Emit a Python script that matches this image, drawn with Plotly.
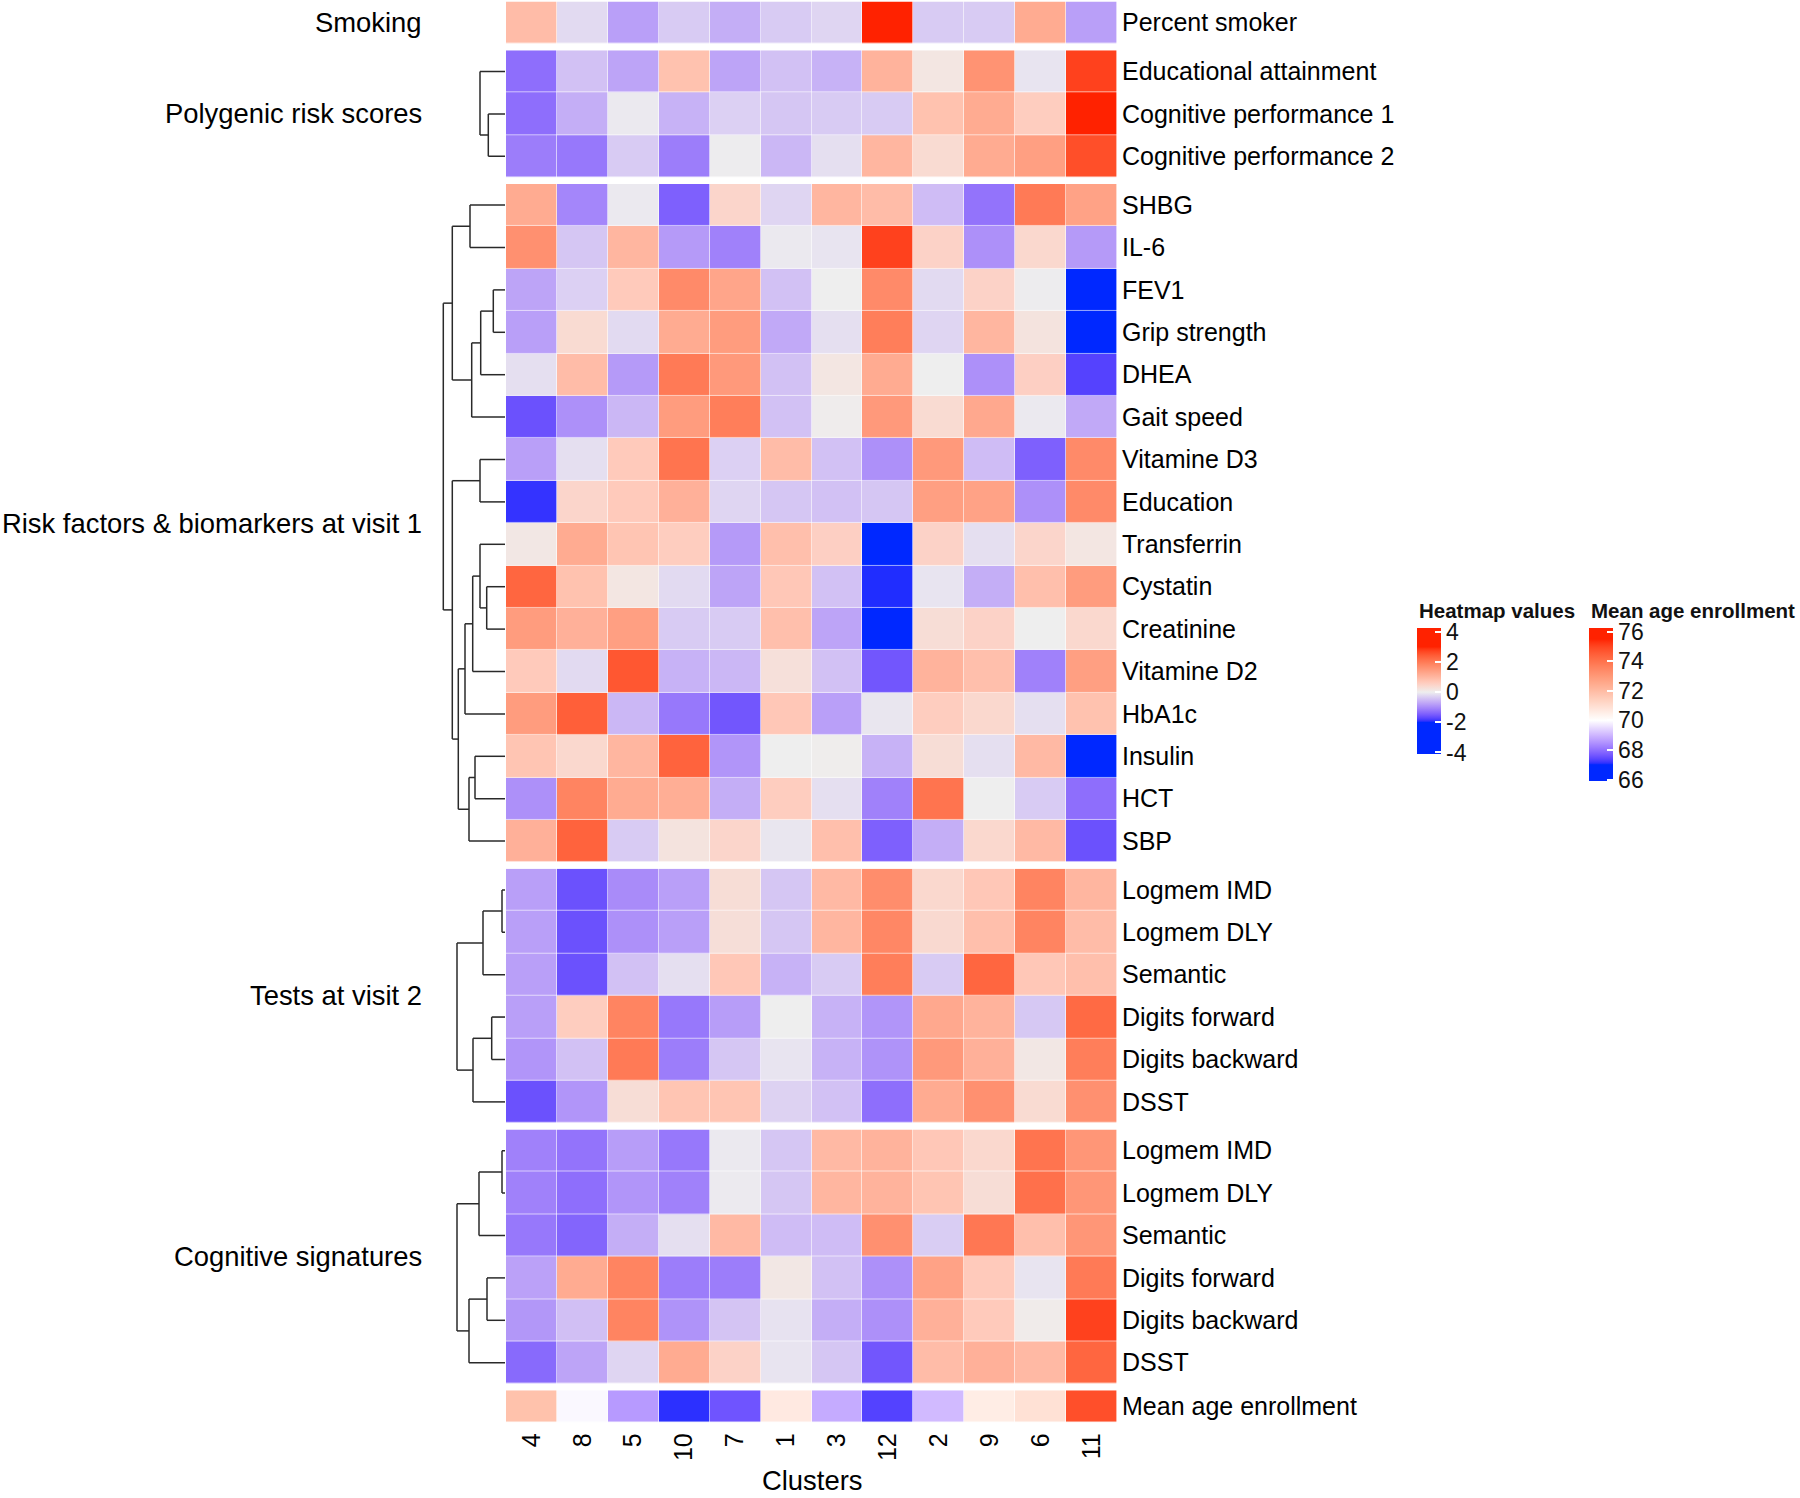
import numpy as np
import plotly.graph_objects as go

# ---------------- data ----------------
clusters = ["4", "8", "5", "10", "7", "1", "3", "12", "2", "9", "6", "11"]

smoking_rows = ["Percent smoker"]
smoking_values = [
    [0.9, -0.2, -0.8, -0.35, -0.65, -0.35, -0.25, 3.5, -0.35, -0.35, 1.2, -0.8],
]

prs_rows = ["Educational attainment", "Cognitive performance 1", "Cognitive performance 2"]
prs_values = [
    [-1.3, -0.45, -0.75, 0.8, -0.75, -0.45, -0.6, 1.05, 0.15, 1.6, -0.1, 2.75],
    [-1.3, -0.65, -0.05, -0.6, -0.3, -0.4, -0.35, -0.35, 0.8, 1.2, 0.6, 3.5],
    [-1.15, -1.2, -0.35, -1.15, -0.02, -0.55, -0.15, 1.0, 0.35, 1.2, 1.4, 2.6],
]
prs_tree = [[1, 2, 1.67], [0, 3, 2.5]]

risk_rows = ["SHBG", "IL-6", "FEV1", "Grip strength", "DHEA", "Gait speed",
             "Vitamine D3", "Education", "Transferrin", "Cystatin", "Creatinine",
             "Vitamine D2", "HbA1c", "Insulin", "HCT", "SBP"]
risk_values = [
    [1.2, -1.05, -0.05, -1.45, 0.45, -0.25, 1.0, 0.9, -0.5, -1.25, 2.0, 1.35],
    [1.65, -0.4, 1.0, -0.85, -1.1, -0.05, -0.1, 2.75, 0.5, -0.95, 0.4, -0.85],
    [-0.75, -0.3, 0.65, 1.75, 1.3, -0.45, 0.0, 1.75, -0.2, 0.5, -0.02, -2.5],
    [-0.8, 0.35, -0.2, 1.2, 1.45, -0.7, -0.15, 1.95, -0.25, 1.0, 0.2, -2.2],
    [-0.15, 0.9, -0.85, 2.0, 1.5, -0.45, 0.15, 1.2, 0.0, -0.95, 0.55, -1.75],
    [-1.6, -0.95, -0.55, 1.45, 1.95, -0.45, 0.03, 1.5, 0.35, 1.25, -0.05, -0.7],
    [-0.8, -0.15, 0.65, 2.1, -0.3, 0.9, -0.45, -0.95, 1.5, -0.5, -1.45, 1.75],
    [-1.9, 0.45, 0.65, 1.1, -0.25, -0.4, -0.45, -0.4, 1.4, 1.35, -0.95, 1.75],
    [0.12, 1.2, 0.75, 0.6, -0.85, 0.85, 0.55, -2.5, 0.5, -0.15, 0.45, 0.15],
    [2.3, 0.8, 0.15, -0.2, -0.75, 0.7, -0.45, -1.95, -0.1, -0.65, 0.85, 1.45],
    [1.45, 1.1, 1.4, -0.35, -0.35, 0.85, -0.75, -2.5, 0.3, 0.5, 0.0, 0.4],
    [0.65, -0.2, 2.5, -0.6, -0.55, 0.25, -0.45, -1.55, 1.05, 0.85, -1.1, 1.4],
    [1.45, 2.4, -0.55, -1.2, -1.55, 0.7, -0.8, -0.08, 0.6, 0.4, -0.15, 0.8],
    [0.75, 0.4, 1.0, 2.35, -0.9, 0.0, 0.02, -0.6, 0.3, -0.15, 0.95, -2.1],
    [-0.95, 1.85, 1.2, 1.15, -0.65, 0.6, -0.15, -1.1, 2.1, 0.0, -0.35, -1.3],
    [1.1, 2.35, -0.35, 0.2, 0.45, -0.08, 0.85, -1.45, -0.65, 0.4, 0.95, -1.6],
]
risk_tree = [
    [0, 1, 3.5], [2, 3, 1.17], [17, 4, 2.43], [18, 5, 3.33], [16, 19, 5.27],
    [6, 7, 2.5], [9, 10, 1.83], [8, 22, 2.5], [23, 11, 3.23], [24, 12, 4.0],
    [13, 14, 3.0], [26, 15, 3.6], [25, 27, 4.67], [21, 28, 5.27], [20, 29, 6.17],
]

test_rows = ["Logmem IMD", "Logmem DLY", "Semantic", "Digits forward", "Digits backward", "DSST"]
test_values = [
    [-0.8, -1.6, -1.0, -0.8, 0.3, -0.4, 0.95, 1.7, 0.4, 0.7, 1.85, 1.0],
    [-0.8, -1.6, -0.95, -0.8, 0.28, -0.4, 1.0, 1.8, 0.38, 0.85, 1.85, 0.9],
    [-0.8, -1.6, -0.45, -0.15, 0.7, -0.6, -0.35, 1.95, -0.35, 2.3, 0.7, 0.85],
    [-0.8, 0.6, 1.85, -1.2, -0.82, 0.0, -0.6, -0.9, 1.25, 1.05, -0.38, 2.25],
    [-0.9, -0.45, 2.0, -1.15, -0.4, -0.1, -0.6, -0.92, 1.5, 1.1, 0.12, 1.95],
    [-1.6, -0.9, 0.3, 0.75, 0.75, -0.28, -0.45, -1.3, 1.2, 1.65, 0.35, 1.65],
]
test_tree = [[0, 1, 0.3], [6, 2, 2.2], [3, 4, 1.33], [8, 5, 3.2], [7, 9, 4.8]]

cog_rows = ["Logmem IMD", "Logmem DLY", "Semantic", "Digits forward", "Digits backward", "DSST"]
cog_values = [
    [-1.1, -1.25, -0.82, -1.2, -0.05, -0.4, 0.95, 1.05, 0.7, 0.4, 2.1, 1.55],
    [-1.1, -1.3, -0.9, -1.1, -0.04, -0.4, 1.0, 1.05, 0.75, 0.3, 2.15, 1.55],
    [-1.2, -1.4, -0.65, -0.15, 0.95, -0.5, -0.5, 1.65, -0.33, 2.05, 0.85, 1.55],
    [-0.78, 1.2, 1.85, -1.15, -1.15, 0.12, -0.45, -0.95, 1.35, 0.65, -0.1, 2.0],
    [-0.88, -0.47, 1.85, -0.92, -0.42, -0.12, -0.65, -0.95, 1.1, 0.65, 0.05, 2.75],
    [-1.35, -0.75, -0.25, 1.2, 0.5, -0.1, -0.4, -1.55, 0.9, 1.1, 0.95, 2.3],
]
cog_tree = [[0, 1, 0.3], [6, 2, 2.6], [3, 4, 1.8], [8, 5, 3.6], [7, 9, 4.8]]

age_rows = ["Mean age enrollment"]
age_values = [[71.8, 69.9, 68.6, 67.1, 67.6, 70.65, 68.85, 67.35, 69.05, 70.55, 70.9, 74.8]]

heat_ticks = [4, 2, 0, -2, -4]
age_ticks = [76, 74, 72, 70, 68, 66]

# ---------------- colour helpers (LAB interpolation, like colorRamp2) ----------------
M = np.array([[0.4124, 0.3576, 0.1805], [0.2126, 0.7152, 0.0722], [0.0193, 0.1192, 0.9505]])
MINV = np.linalg.inv(M)
WP = np.array([0.95047, 1.0, 1.08883])


def srgb_to_lab(c):
    c = np.array(c, dtype=float) / 255.0
    lin = np.where(c <= 0.04045, c / 12.92, ((c + 0.055) / 1.055) ** 2.4)
    r = (M @ lin) / WP
    f = np.where(r > 0.008856, np.cbrt(r), 7.787 * r + 16 / 116)
    return np.array([116 * f[1] - 16, 500 * (f[0] - f[1]), 200 * (f[1] - f[2])])


def lab_to_rgbstr(lab):
    L, a, b = lab
    fy = (L + 16) / 116
    f = np.array([fy + a / 500, fy, fy - b / 200])
    r = np.where(f ** 3 > 0.008856, f ** 3, (f - 16 / 116) / 7.787)
    lin = np.clip(MINV @ (r * WP), 0, 1)
    c = np.where(lin <= 0.0031308, 12.92 * lin, 1.055 * lin ** (1 / 2.4) - 0.055)
    c = np.round(np.clip(c, 0, 1) * 255).astype(int)
    return "rgb(%d,%d,%d)" % tuple(c)


def lab_scale(anchors, vmin, vmax, steps=30):
    stops = []
    if anchors[0][0] > vmin:
        stops.append([0.0, lab_to_rgbstr(srgb_to_lab(anchors[0][1]))])
    for i, ((v0, c0), (v1, c1)) in enumerate(zip(anchors[:-1], anchors[1:])):
        l0, l1 = srgb_to_lab(c0), srgb_to_lab(c1)
        for k in range(0 if i == 0 else 1, steps + 1):
            t = k / steps
            v = v0 + (v1 - v0) * t
            stops.append([(v - vmin) / (vmax - vmin), lab_to_rgbstr(l0 + (l1 - l0) * t)])
    if anchors[-1][0] < vmax:
        stops.append([1.0, lab_to_rgbstr(srgb_to_lab(anchors[-1][1]))])
    return stops


BLUE = (0, 40, 255)
RED = (255, 34, 0)
HEAT_MIN, HEAT_MAX = -4.1, 4.25
AGE_MIN, AGE_MAX = 65.9, 76.25
heat_scale = lab_scale([(-2, BLUE), (0, (238, 238, 238)), (3, RED)], HEAT_MIN, HEAT_MAX)
age_scale = lab_scale([(67, BLUE), (70, (255, 255, 255)), (75.5, RED)], AGE_MIN, AGE_MAX)

# ---------------- layout geometry ----------------
W, H = 1800, 1498
FONT = "Liberation Sans, Arial, Helvetica, sans-serif"
ROW_H = 42.4
GAP = 6.4
HM_X0, HM_X1 = 506, 1117
DEND_X1 = 505
DEND_W = 70
DEND_MAX = 7.0

groups = [
    dict(name="Smoking", rows=smoking_rows, z=smoking_values, tree=None, age=False),
    dict(name="Polygenic risk scores", rows=prs_rows, z=prs_values, tree=prs_tree, age=False),
    dict(name="Risk factors & biomarkers at visit 1", rows=risk_rows, z=risk_values, tree=risk_tree, age=False),
    dict(name="Tests at visit 2", rows=test_rows, z=test_values, tree=test_tree, age=False),
    dict(name="Cognitive signatures", rows=cog_rows, z=cog_values, tree=cog_tree, age=False),
    dict(name=None, rows=age_rows, z=age_values, tree=None, age=True),
]

fig = go.Figure()
layout = {}
annotations = []
top = 1.5
for gi, g in enumerate(groups):
    n = len(g["rows"])
    h = 32 if g["age"] else n * ROW_H
    y0, y1 = top, top + h
    top = y1 + GAP
    axname = "yaxis" if gi == 0 else "yaxis%d" % (gi + 1)
    ref = "y" if gi == 0 else "y%d" % (gi + 1)
    layout[axname] = dict(
        domain=[1 - y1 / H, 1 - y0 / H], anchor="x", side="right",
        range=[n - 0.5, -0.5], tickmode="array", tickvals=list(range(n)),
        ticktext=g["rows"], ticks="", showgrid=False, zeroline=False, showline=False,
        tickfont=dict(size=25, color="#000000", family=FONT), ticklabelstandoff=4,
    )
    fig.add_trace(go.Heatmap(
        z=g["z"], x=clusters, y=list(range(n)), xaxis="x", yaxis=ref,
        coloraxis="coloraxis2" if g["age"] else "coloraxis",
        xgap=0.6, ygap=0.6, hoverongaps=False,
    ))
    if g["name"]:
        annotations.append(dict(
            text=g["name"], x=424 / W, y=1 - (y0 + y1) / 2 / H, xref="paper", yref="paper",
            xanchor="right", yanchor="middle", showarrow=False,
            font=dict(size=27.4, color="#000000", family=FONT),
        ))
    if g["tree"]:
        pos = {i: float(i) for i in range(n)}
        hgt = {i: 0.0 for i in range(n)}
        xs, ys = [], []
        for k, (a, b, hh) in enumerate(g["tree"]):
            node = n + k
            for c in (a, b):
                xs += [hgt[c], hh, None]
                ys += [pos[c], pos[c], None]
            xs += [hh, hh, None]
            ys += [pos[a], pos[b], None]
            pos[node] = (pos[a] + pos[b]) / 2
            hgt[node] = hh
        fig.add_trace(go.Scatter(
            x=xs, y=ys, mode="lines", xaxis="x2", yaxis=ref,
            line=dict(color="#2a2a2a", width=1.5), hoverinfo="skip", showlegend=False,
        ))

layout["xaxis"] = dict(
    domain=[HM_X0 / W, HM_X1 / W], anchor="y6", type="category", tickangle=-90,
    ticks="", showgrid=False, zeroline=False, showline=False,
    tickfont=dict(size=25, color="#000000", family=FONT), ticklabelstandoff=5,
)
layout["xaxis2"] = dict(
    domain=[(DEND_X1 - DEND_W) / W, DEND_X1 / W], range=[DEND_MAX, 0],
    visible=False, anchor="y", showgrid=False, zeroline=False,
)

annotations.append(dict(
    text="Clusters", x=(HM_X0 + HM_X1) / 2 / W, y=1 - 1480 / H, xref="paper", yref="paper",
    xanchor="center", yanchor="middle", showarrow=False,
    font=dict(size=27.4, color="#000000", family=FONT),
))

# legend titles as text above each colour bar
for title, x_left in (("Heatmap values", 1417), ("Mean age enrollment", 1589)):
    annotations.append(dict(
        text="<b>%s</b>" % title, x=x_left / W, y=1 - 610 / H, xref="paper", yref="paper",
        xanchor="left", yanchor="middle", showarrow=False,
        font=dict(size=20.5, color="#111111", family=FONT),
    ))

cb_common = dict(
    xanchor="left", yanchor="top", thickness=24, thicknessmode="pixels", lenmode="pixels",
    xpad=0, ypad=0, outlinewidth=0, ticks="inside", ticklen=6, tickwidth=1.5,
    tickcolor="white", tickfont=dict(size=23, color="#111111", family=FONT),
    tickmode="array",
)
CB_TOP = 628
layout["coloraxis"] = dict(
    colorscale=heat_scale, cmin=HEAT_MIN, cmax=HEAT_MAX,
    colorbar=dict(
        x=1417 / W, y=1 - CB_TOP / H, len=754 - CB_TOP,
        tickvals=heat_ticks, ticktext=[str(t) for t in heat_ticks],
        **cb_common,
    ),
)
layout["coloraxis2"] = dict(
    colorscale=age_scale, cmin=AGE_MIN, cmax=AGE_MAX,
    colorbar=dict(
        x=1589 / W, y=1 - CB_TOP / H, len=781 - CB_TOP,
        tickvals=age_ticks, ticktext=[str(t) for t in age_ticks],
        **cb_common,
    ),
)

fig.update_layout(
    width=W, height=H, margin=dict(l=0, r=0, t=0, b=0),
    paper_bgcolor="white", plot_bgcolor="white",
    font=dict(family=FONT, color="#000000"),
    annotations=annotations, showlegend=False,
    **layout,
)

fig.write_html("out.html", config={"displayModeBar": False},
               post_script="document.body.style.margin='0px';")
